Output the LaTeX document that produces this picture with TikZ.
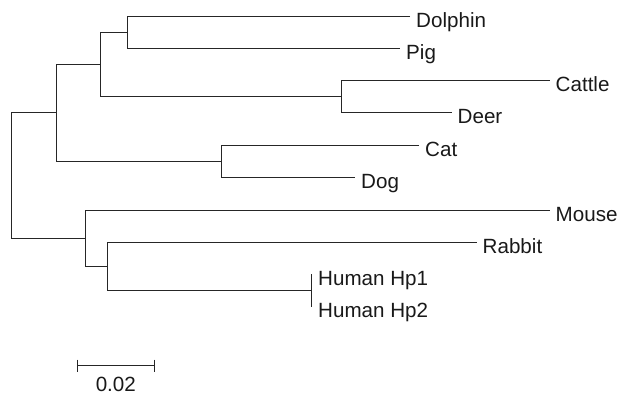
\documentclass[tikz,border=0pt]{standalone}
\usepackage{fontspec}
\setmainfont{Liberation Sans}
\begin{document}
\begin{tikzpicture}[x=1pt,y=-1pt,
  branch/.style={draw=black!85,line width=1.15pt},
  leaf/.style={anchor=base west,inner sep=0pt,text=black!90,font=\fontsize{20.6}{24}\selectfont},
  lab/.style={leaf,anchor=base}]
\useasboundingbox (0,0) rectangle (620,395);
% internal nodes
\coordinate (r) at (11.5,175.5);
\coordinate (a) at (56.5,112.5);
\coordinate (b) at (100.5,64.5);
\coordinate (dp) at (127.5,32.5);
\coordinate (cd) at (341.5,96.5);
\coordinate (cg) at (221.5,161.5);
\coordinate (m) at (85.5,238.5);
\coordinate (rh) at (107.5,266.5);
\coordinate (hu) at (311.5,290.5);
% leaf tips
\coordinate (tdolphin) at (410,16.5);
\coordinate (tpig) at (400,48.5);
\coordinate (tcattle) at (549.5,80.5);
\coordinate (tdeer) at (451.5,112.5);
\coordinate (tcat) at (419,145.5);
\coordinate (tdog) at (355,177.5);
\coordinate (tmouse) at (549.5,210.5);
\coordinate (trabbit) at (476.5,242.5);
\coordinate (thp1) at (311.5,274);
\coordinate (thp2) at (311.5,307);
% labels
\node[leaf] (ldolphin) at ([xshift=6pt,yshift=-10.7pt]tdolphin) {Dolphin};
\node[leaf] (lpig) at ([xshift=6pt,yshift=-10.7pt]tpig) {Pig};
\node[leaf] (lcattle) at ([xshift=6pt,yshift=-10.7pt]tcattle) {Cattle};
\node[leaf] (ldeer) at ([xshift=6pt,yshift=-10.7pt]tdeer) {Deer};
\node[leaf] (lcat) at ([xshift=6pt,yshift=-10.7pt]tcat) {Cat};
\node[leaf] (ldog) at ([xshift=6pt,yshift=-10.7pt]tdog) {Dog};
\node[leaf] (lmouse) at ([xshift=6pt,yshift=-10.7pt]tmouse) {Mouse};
\node[leaf] (lrabbit) at ([xshift=6pt,yshift=-10.7pt]trabbit) {Rabbit};
\node[leaf] (lhp1) at ([xshift=6.5pt,yshift=-11.5pt]thp1) {Human Hp1};
\node[leaf] (lhp2) at ([xshift=6.5pt,yshift=-10.2pt]thp2) {Human Hp2};
% branches
\draw[branch] (a) -| (r) |- (m);
\draw[branch] (b) -| (a) |- (cg);
\draw[branch] (dp) -| (b) |- (cd);
\draw[branch] (tdolphin) -| (dp) |- (tpig);
\draw[branch] (tcattle) -| (cd) |- (tdeer);
\draw[branch] (tcat) -| (cg) |- (tdog);
\draw[branch] (tmouse) -| (m) |- (rh);
\draw[branch] (trabbit) -| (rh) |- (hu);
\draw[branch] (thp1) -- (thp2);
% scale bar
\coordinate (s1) at (77.5,365.5);
\coordinate (s2) at (154.5,365.5);
\draw[branch] (s1) -- (s2);
\draw[branch] ([yshift=6pt]s1) -- ([yshift=-6pt]s1);
\draw[branch] ([yshift=6pt]s2) -- ([yshift=-6pt]s2);
\node[lab] (scale) at (115.8,391) {0.02};
\end{tikzpicture}
\end{document}
